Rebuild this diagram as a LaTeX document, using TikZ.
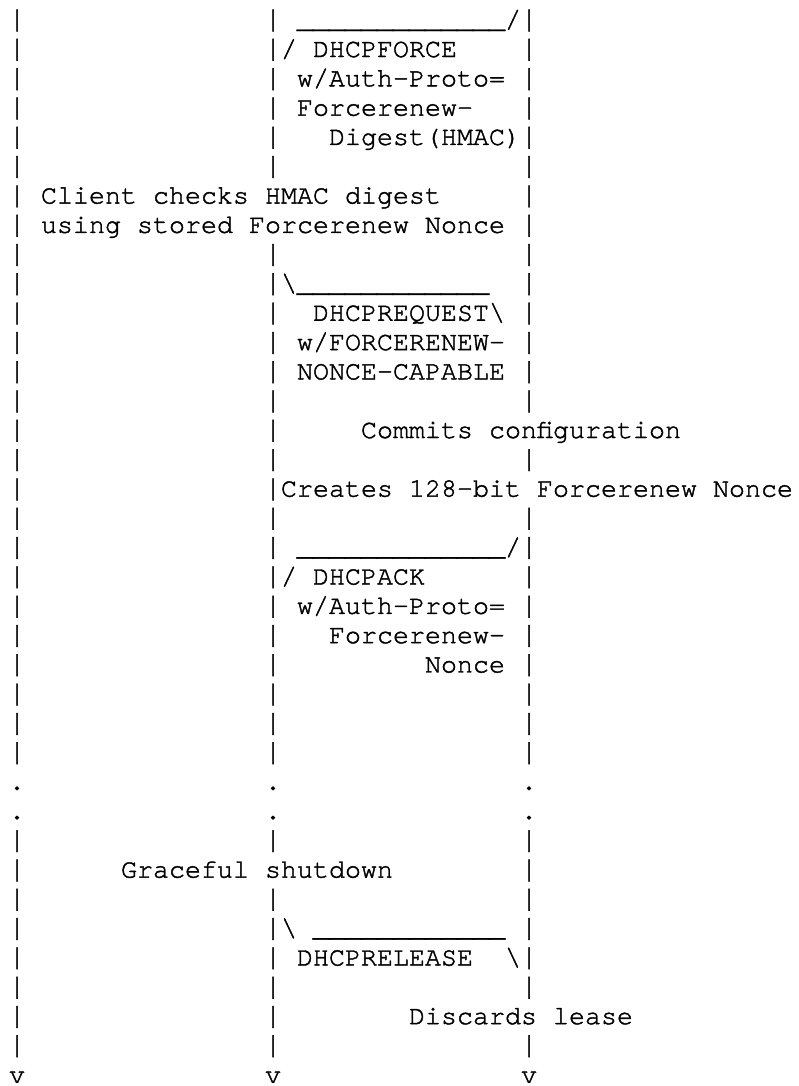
\documentclass[tikz,border=0pt]{standalone}
\usepackage{fontspec}
\usepackage{graphicx}
\newfontfamily\cursorfont[FakeBold=1.5]{texgyrecursor-regular.otf}
\tikzset{
  cell/.style={anchor=base west, inner sep=0pt, outer sep=0pt,
    font=\cursorfont\fontsize{20pt}{22pt}\selectfont\frenchspacing},
}
\newcommand\txt[3]{\node[cell] (t#1c#2) at ({6.75pt+#2*12pt},{-20.78pt-(#1-1)*21.98pt}) {#3};}
% a slightly taller bar character, as in the reference's font
\newcommand\vbar{\scalebox{1}[1.12]{|}}
\begin{document}
\begin{tikzpicture}
\fill[white] (0,0) rectangle (599.25pt,-814.5pt);
\useasboundingbox (0,0) rectangle (599.25pt,-814.5pt);
% lifelines (ASCII bars)
\foreach \r in {1,...,26,29,30,...,36} {\txt{\r}{0}{\vbar}}
\foreach \r in {1,...,6,9,10,...,26,29,31,32,...,36} {\txt{\r}{16}{\vbar}}
\foreach \r in {1,...,14,16,18,19,...,26,29,30,...,34,36} {\txt{\r}{32}{\vbar}}
\foreach \r in {27,28} {\txt{\r}{0}{.}\txt{\r}{16}{.}\txt{\r}{32}{.}}
\txt{37}{0}{v}\txt{37}{16}{v}\txt{37}{32}{v}
% DHCPFORCE
\txt{1}{18}{\_\_\_\_\_\_\_\_\_\_\_\_\_}
\txt{1}{31}{/}
\txt{2}{17}{/ DHCPFORCE}
\txt{3}{18}{w/Auth-Proto=}
\txt{4}{18}{Forcerenew-}
\txt{5}{20}{Digest(HMAC)}
\txt{7}{2}{Client checks HMAC digest}
\txt{8}{2}{using stored Forcerenew Nonce}
% DHCPREQUEST
\txt{10}{17}{\textbackslash}
\txt{10}{18}{\_\_\_\_\_\_\_\_\_\_\_\_}
\txt{11}{19}{DHCPREQUEST\textbackslash}
\txt{12}{18}{w/FORCERENEW-}
\txt{13}{18}{NONCE-CAPABLE}
\txt{15}{22}{Commits configuration}
\txt{17}{17}{Creates 128-bit Forcerenew Nonce}
% DHCPACK
\txt{19}{18}{\_\_\_\_\_\_\_\_\_\_\_\_\_}
\txt{19}{31}{/}
\txt{20}{17}{/ DHCPACK}
\txt{21}{18}{w/Auth-Proto=}
\txt{22}{20}{Forcerenew-}
\txt{23}{26}{Nonce}
% release
\txt{30}{7}{Graceful shutdown}
\txt{32}{17}{\textbackslash}
\txt{32}{19}{\_\_\_\_\_\_\_\_\_\_\_\_}
\txt{33}{18}{DHCPRELEASE}
\txt{33}{31}{\textbackslash}
\txt{35}{25}{Discards lease}
\end{tikzpicture}
\end{document}
